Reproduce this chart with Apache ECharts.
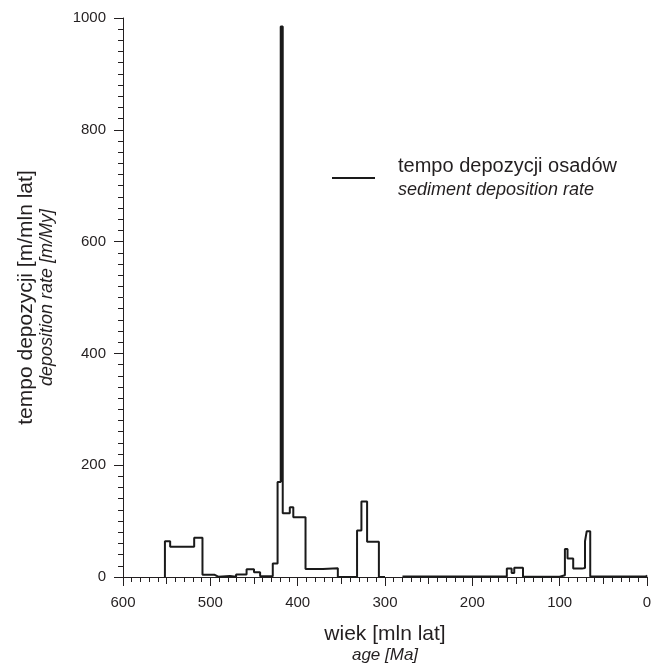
<!DOCTYPE html>
<html>
<head>
<meta charset="utf-8">
<script src="https://cdn.jsdelivr.net/npm/echarts@6/dist/echarts.min.js"></script>
<style>
  html, body { margin: 0; padding: 0; background: #fff; }
  #chart { width: 660px; height: 663px; }
</style>
</head>
<body>
<div id="chart"></div>
<script>
// start age of each step [Ma] and deposition rate [m/My] kept until the next age
var ages  = [552, 552, 546, 518.5, 509, 495, 491, 477.5, 470.5, 458.5, 450, 443, 428.5, 423, 419.4, 417.1, 409, 405, 391, 371, 354, 332, 327, 320.5, 307,
             300,
             280, 160.5, 155, 152, 142, 100, 94, 91, 84.5, 74.5, 71, 69, 65, 1, 0];
var rates = [0, 64, 54, 70, 4, 0.5, 2, 0.5, 4.5, 14, 8.5, 1.5, 24, 170, 985, 114, 125, 107, 14.5, 15.5, 0, 83, 135, 63, 0,
             null,
             1, 15, 7, 16.5, 0.5, 3, 50, 33, 15, 16, 64, 82, 1, 3, 3];
var xTicks = [0, 600, 100];
var yTicks = [0, 1000, 200];
var seriesName = 'tempo depozycji osadów';
var seriesNameEn = 'sediment deposition rate';

(function(){
    var chart = echarts.init(document.getElementById('chart'));
    var data = [];
    ages.forEach(function(a, i){
        data.push([a, rates[i]]);
    });
    var txt = '#231f20';
    var font = 'Liberation Sans, Arial, sans-serif';

    var option = {
        animation: false,
        grid: { left: 123, right: 13, top: 18, bottom: 86, outerBoundsMode: 'none', containLabel: false },
        legend: {
            data: [seriesName],
            left: 327,
            top: 151,
            icon: 'rect',
            itemWidth: 43,
            itemHeight: 2,
            formatter: function(name){
                return '{a|' + name + '}\n{b|' + seriesNameEn + '}';
            },
            textStyle: {
                fontFamily: font,
                rich: {
                    a: { fontSize: 20, lineHeight: 24, color: txt, padding: [0, 0, 0, 18], fontFamily: font },
                    b: { fontSize: 18, lineHeight: 24, color: txt, fontStyle: 'italic', padding: [0, 0, 0, 18], fontFamily: font }
                }
            }
        },
        xAxis: [{
            type: 'value',
            inverse: true,
            min: xTicks[0], max: xTicks[1], interval: xTicks[2],
            position: 'bottom',
            name: '{a|wiek [mln lat]}\n{b|age [Ma]}',
            nameLocation: 'middle',
            nameGap: 46,
            nameTextStyle: {
                fontFamily: font,
                rich: {
                    a: { fontSize: 21, lineHeight: 22, color: txt, fontFamily: font },
                    b: { fontSize: 17, lineHeight: 20, color: txt, fontStyle: 'italic', fontFamily: font }
                }
            },
            axisLine: { lineStyle: { color: txt, width: 1 } },
            axisTick: { length: 9, lineStyle: { color: txt } },
            minorTick: { show: true, splitNumber: 10, length: 5, lineStyle: { color: txt } },
            axisLabel: { fontSize: 15, color: txt, margin: 18, fontFamily: font },
            splitLine: { show: false }
        }, {
            type: 'value',
            inverse: true,
            min: xTicks[0], max: xTicks[1], interval: xTicks[2] / 2,
            position: 'bottom',
            axisLine: { show: false },
            axisTick: { length: 7, lineStyle: { color: txt } },
            axisLabel: { show: false },
            splitLine: { show: false }
        }],
        yAxis: {
            type: 'value',
            position: 'left',
            min: yTicks[0], max: yTicks[1], interval: yTicks[2],
            name: '{a|tempo depozycji [m/mln lat]}\n{b|deposition rate [m/My]}',
            nameLocation: 'middle',
            nameRotate: 90,
            nameGap: 66,
            nameTextStyle: {
                fontFamily: font,
                rich: {
                    a: { fontSize: 21, lineHeight: 22, color: txt, fontFamily: font },
                    b: { fontSize: 18, lineHeight: 20, color: txt, fontStyle: 'italic', fontFamily: font }
                }
            },
            axisLine: { show: true, onZero: false, lineStyle: { color: txt, width: 1 } },
            axisTick: { show: true, length: 9, lineStyle: { color: txt } },
            minorTick: { show: true, splitNumber: 10, length: 5, lineStyle: { color: txt } },
            axisLabel: {
                fontSize: 15, color: txt, margin: 17, fontFamily: font,
                formatter: function(v){ return String(v); }
            },
            splitLine: { show: false }
        },
        series: [{
            name: seriesName,
            type: 'line',
            step: 'end',
            symbol: 'none',
            color: '#1a1a1a',
            lineStyle: { color: '#1a1a1a', width: 2 },
            connectNulls: false,
            data: data
        }]
    };
    chart.setOption(option);
})();
</script>
</body>
</html>
